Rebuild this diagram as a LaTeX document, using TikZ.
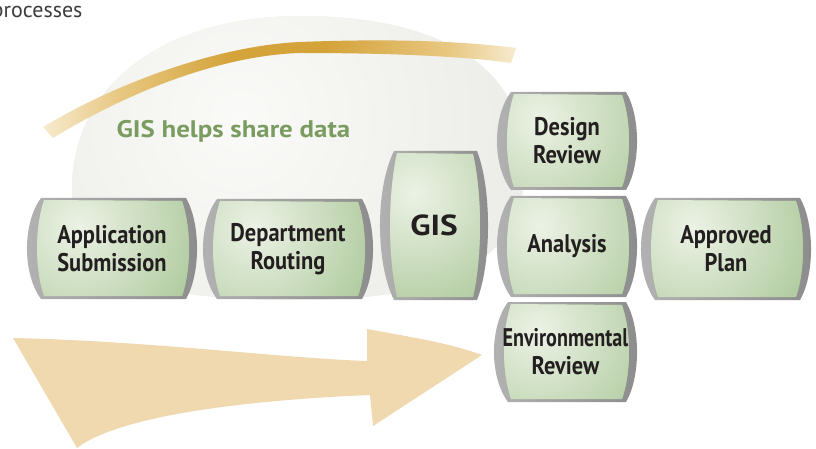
\documentclass[tikz,border=0pt]{standalone}
\usepackage{fontspec}
\setmainfont{PT Sans}
\newfontfamily\tilefont[FakeStretch=0.88]{PT Sans}
\newfontfamily\envfont[FakeStretch=0.79]{PT Sans}
\newfontfamily\gisfont[FakeStretch=1.15]{PT Sans}
\newfontfamily\sharefont[FakeStretch=1.12]{PT Sans}
\usetikzlibrary{calc}
\definecolor{blobgrey}{RGB}{237,237,233}
\definecolor{bloblight}{RGB}{250,250,248}
\definecolor{arcdark}{RGB}{212,163,58}
\definecolor{arcmid}{RGB}{232,200,130}
\definecolor{arcpale}{RGB}{247,234,206}
\definecolor{arrowtan}{RGB}{240,217,175}
\definecolor{facegreen}{RGB}{174,202,157}
\definecolor{facelight}{RGB}{236,242,229}
\definecolor{sharegreen}{RGB}{122,156,96}
\definecolor{labeldark}{RGB}{35,31,32}
\definecolor{processgrey}{RGB}{60,60,60}
\pgfdeclarehorizontalshading{arcshade}{100bp}{color(0bp)=(arcpale); color(25bp)=(arcpale);
  color(33bp)=(arcmid); color(45bp)=(arcdark); color(55bp)=(arcdark); color(68bp)=(arcmid);
  color(75bp)=(arcpale); color(100bp)=(arcpale)}
\tikzset{
  tilebevel/.style={left color=black!30, middle color=black!10, right color=black!45},
  tileface/.style={path picture={
      \fill[facegreen] (path picture bounding box.south west) rectangle (path picture bounding box.north east);
      \shade[inner color=facelight, outer color=facegreen]
        ($(path picture bounding box.north west)!0.28!(path picture bounding box.south east)$) circle (130pt);}},
  tilelabel/.style={text=labeldark, align=center, inner sep=0pt},
}
\begin{document}
\begin{tikzpicture}[x=1pt, y=-1pt]
  \useasboundingbox (0,0) rectangle (816,449);
  \clip (0,0) rectangle (816,449);

  % grey cloud behind the tiles
  \path[path picture={
      \fill[blobgrey] (path picture bounding box.south west) rectangle (path picture bounding box.north east);
      \shade[inner color=bloblight, outer color=blobgrey] (240,120) circle (260pt);}]
    (72,190) .. controls (72,80) and (170,16) .. (300,16)
    .. controls (430,16) and (525,60) .. (525,165)
    .. controls (525,260) and (450,300) .. (300,300)
    .. controls (150,300) and (72,280) .. cycle;

  % sharing arc
  \shade[shading=arcshade]
    (43,127) .. controls (130,75) and (230,45) .. (300,42)
    .. controls (400,38) and (470,42) .. (516,48)
    -- (511,63) .. controls (470,57) and (400,53) .. (300,53)
    .. controls (230,55) and (140,85) .. (53,138) -- cycle;

  \node[anchor=base east, text=processgrey, font=\fontsize{22}{24}\selectfont] (proc) at (86,18) {processes};
  \node[anchor=base west, text=sharegreen, font=\sharefont\bfseries\fontsize{24}{26}\selectfont] (share) at (113,138) {GIS helps share data};

  % big flow arrow
  \fill[arrowtan] (13,338) .. controls (150,341) and (280,358) .. (367,361)
    -- (367,329) .. controls (410,337) and (450,343) .. (482,355)
    -- (373,426) -- (370,395)
    .. controls (250,400) and (120,415) .. (77,448)
    -- cycle;

  \foreach \nm/\xa/\ya/\xb/\yb/\txt in {
      app/27/198/197/299/{Application\\Submission},
      route/203/199/373/299/{Department\\Routing},
      gis/380/151/488/300/{\gisfont\fontsize{29}{30}\selectfont GIS},
      design/497/92/637/190/{Design\\Review},
      analysis/497/196/637/297/{Analysis},
      approved/641/198/811/300/{Approved\\Plan},
      env/494/302/637/402/{{\envfont Environmental}\\Review}}{
    \pgfmathsetmacro\hh{\yb-\ya}
    \shade[tilebevel] ({\xa+14},\ya) -- ({\xb-11},\ya)
      .. controls ({\xb+3.7},{\ya+0.25*\hh}) and ({\xb+3.7},{\yb-0.25*\hh}) .. ({\xb-11},\yb)
      -- ({\xa+14},\yb)
      .. controls ({\xa-4.7},{\yb-0.25*\hh}) and ({\xa-4.7},{\ya+0.25*\hh}) .. cycle;
    \path[tileface] ({\xa+17},{\ya+2}) -- ({\xb-15},{\ya+3})
      .. controls ({\xb-5.7},{\ya+0.3*\hh}) and ({\xb-5.7},{\yb-0.3*\hh}) .. ({\xb-15},{\yb-3})
      -- ({\xa+17},{\yb-3})
      .. controls ({\xa+7.7},{\yb-0.3*\hh}) and ({\xa+7.7},{\ya+0.3*\hh}) .. cycle;
    \node[tilelabel, font=\tilefont\bfseries\fontsize{25.5}{28}\selectfont] (\nm) at ({(\xa+\xb)/2},{(\ya+\yb)/2}) {\txt};
  }
\end{tikzpicture}
\end{document}
